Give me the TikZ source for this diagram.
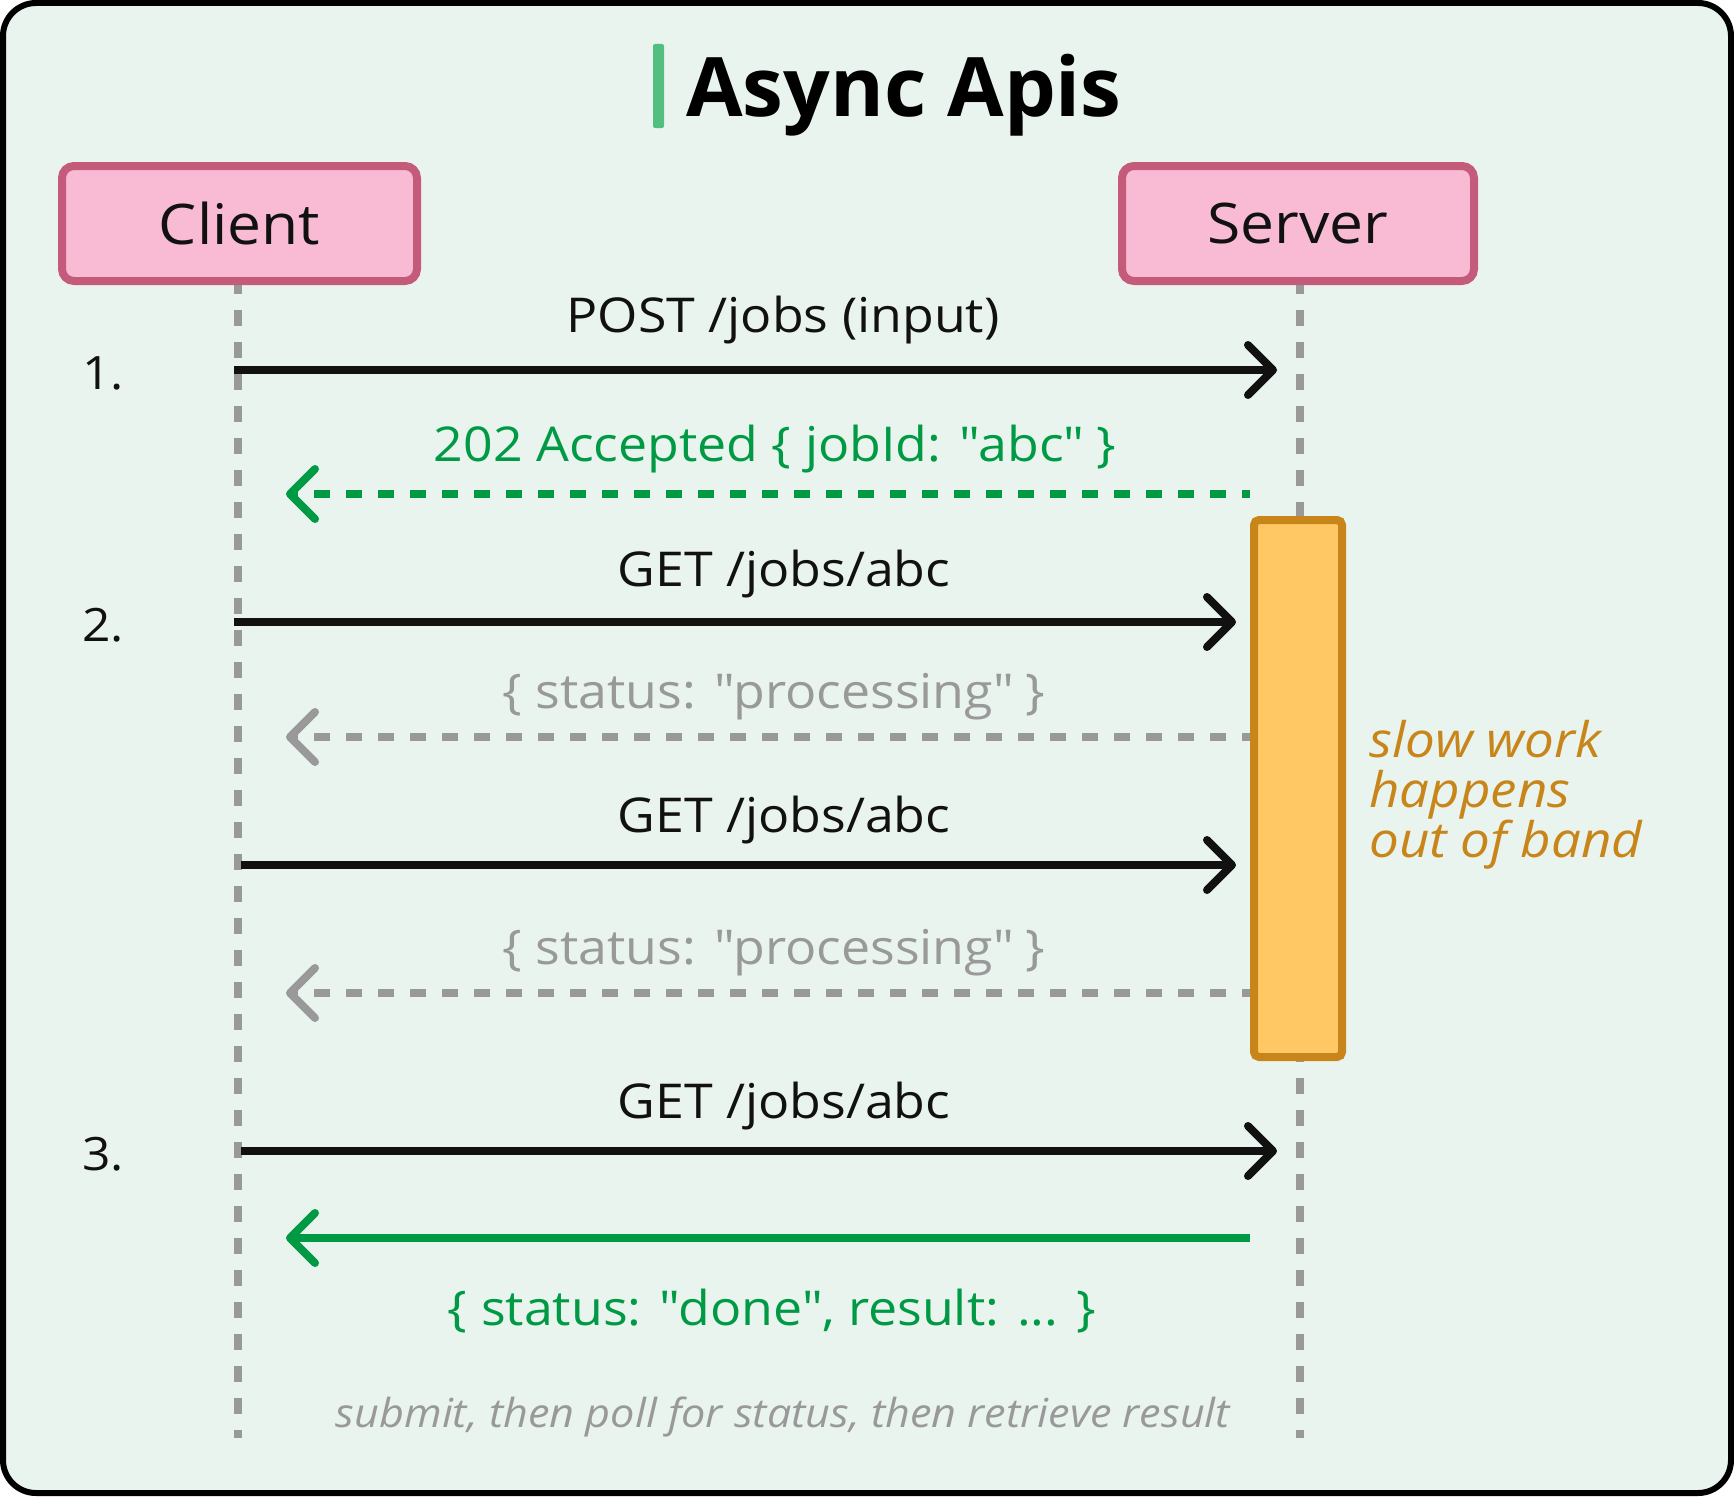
\documentclass[tikz,border=0pt]{standalone}
\usepackage{fontspec}
\setmainfont{Open Sans}[FakeStretch=1.08]
\newfontfamily\titlefont{Open Sans}
\usetikzlibrary{arrows.meta}
\definecolor{bg}{HTML}{EAF4EF}
\definecolor{okgreen}{HTML}{009944}
\definecolor{titlebar}{HTML}{52BE80}
\definecolor{boxfill}{HTML}{F9BBD4}
\definecolor{boxline}{HTML}{C45B7A}
\definecolor{lifegray}{HTML}{999999}
\definecolor{actfill}{HTML}{FFC864}
\definecolor{actline}{HTML}{C8861A}
\definecolor{ink}{HTML}{111111}
\newcommand\dq{\textquotedbl}
\tikzset{
  actor/.style={draw=boxline, fill=boxfill, line width=8pt, rounded corners=12pt,
    minimum height=115pt, inner sep=0pt,
    font=\fontsize{56}{60}\selectfont, text=ink},
  lifeline/.style={draw=lifegray, line width=8pt, dash pattern=on 16pt off 16pt},
  lbl/.style={font=\fontsize{48}{52}\selectfont, inner sep=0pt, anchor=base},
  stepnum/.style={font=\fontsize{46}{50}\selectfont, inner sep=0pt, anchor=base west, text=ink},
  notetext/.style={font=\fontsize{49}{52}\itshape\selectfont, text=actline, inner sep=0pt, anchor=base west},
  tipstyle/.style={-{Straight Barb[length=25pt, width=50pt, round]}},
  callarrow/.style={draw=ink, line width=8pt, tipstyle},
  replydash/.style={line width=8pt, dash pattern=on 16pt off 16pt, dash phase=8pt, tipstyle},
  replysolid/.style={draw=okgreen, line width=8pt, tipstyle},
}
\begin{document}
\begin{tikzpicture}[x=1pt, y=-1pt]
\useasboundingbox (0,0) rectangle (1734,1496);
% frame
\draw[line width=6pt, fill=bg, rounded corners=33pt] (3,3) rectangle (1731,1493);
% title
\fill[titlebar, rounded corners=2pt] (653,44) rectangle (664,128);
\node[font=\titlefont\fontsize{82}{86}\bfseries\selectfont, inner sep=0pt, anchor=base west, text=black] (title) at (686,116) {Async Apis};
% lifelines
\coordinate (ctop) at (238,278); \coordinate (cbot) at (238,1438);
\coordinate (stop) at (1300,278); \coordinate (sbot) at (1300,1438);
\draw[lifeline] (ctop) -- (cbot);
\draw[lifeline] (stop) -- (sbot);
% actors
\node[actor, minimum width=355pt] (client) at (239.5,223.5) {Client};
\node[actor, minimum width=352pt] (server) at (1298,223.5) {Server};
% activation box
\node[draw=actline, fill=actfill, line width=8pt, rounded corners=5pt, minimum width=88pt, minimum height=537pt, inner sep=0pt] (act) at (1298,788.5) {};
% step numbers
\node[stepnum] (n1) at (82,389) {1.};
\node[stepnum] (n2) at (82,641) {2.};
\node[stepnum] (n3) at (82,1170) {3.};
% message 1
\coordinate (c1) at (234,370); \coordinate (s1) at (1277,370);
\draw[callarrow] (c1) -- (s1);
\node[lbl, text=ink] (l1) at (783,332) {POST /jobs (input)};
% reply 1
\coordinate (s2) at (1250,494); \coordinate (c2) at (286,494);
\draw[replydash, draw=okgreen] (s2) -- (c2);
\node[lbl, text=okgreen] (l2) at (775,461) {202 Accepted \{ jobId: \dq abc\dq{} \}};
% message 2
\coordinate (c3) at (234,622); \coordinate (s3) at (1236,622);
\draw[callarrow] (c3) -- (s3);
\node[lbl, text=ink] (l3) at (784,586) {GET /jobs/abc};
% reply 2
\coordinate (s4) at (1250,737); \coordinate (c4) at (286,737);
\draw[replydash, draw=lifegray] (s4) -- (c4);
\node[lbl, text=lifegray] (l4) at (774,708) {\{ status: \dq processing\dq{} \}};
% message 3
\coordinate (c5) at (241,865); \coordinate (s5) at (1236,865);
\draw[callarrow] (c5) -- (s5);
\node[lbl, text=ink] (l5) at (784,832) {GET /jobs/abc};
% reply 3
\coordinate (s6) at (1250,993); \coordinate (c6) at (286,993);
\draw[replydash, draw=lifegray] (s6) -- (c6);
\node[lbl, text=lifegray] (l6) at (774,964) {\{ status: \dq processing\dq{} \}};
% message 4
\coordinate (c7) at (241,1151); \coordinate (s7) at (1277,1151);
\draw[callarrow] (c7) -- (s7);
\node[lbl, text=ink] (l7) at (784,1118) {GET /jobs/abc};
% reply 4
\coordinate (s8) at (1250,1238); \coordinate (c8) at (286,1238);
\draw[replysolid] (s8) -- (c8);
\node[lbl, text=okgreen] (l8) at (772,1325) {\{ status: \dq done\dq, result: ... \}};
% note
\node[notetext] (note1) at (1369,757) {slow work};
\node[notetext] (note2) at (1369,807) {happens};
\node[notetext] (note3) at (1369,857) {out of band};
% footer
\node[font=\fontsize{40}{44}\itshape\selectfont, text=lifegray, inner sep=0pt, anchor=base] (foot) at (783,1427) {submit, then poll for status, then retrieve result};
\end{tikzpicture}
\end{document}
